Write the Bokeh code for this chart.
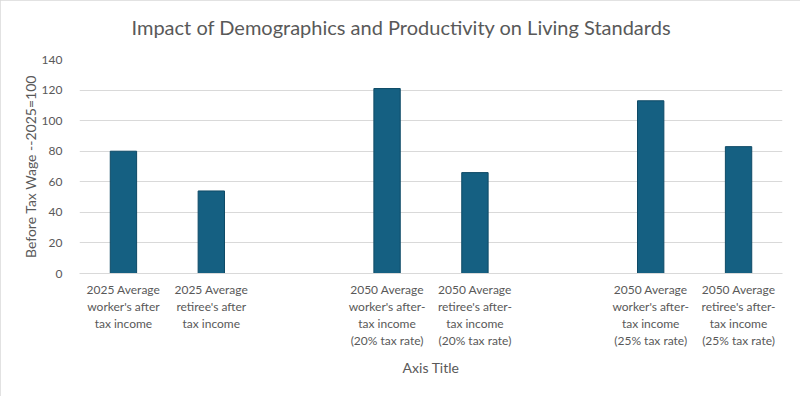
from bokeh.plotting import figure
from bokeh.models import FactorRange, ColumnDataSource, Range1d, SingleIntervalTicker
from bokeh.embed import file_html
from bokeh.resources import INLINE

title_text = "Impact of Demographics and Productivity on Living Standards"
y_title = "Before Tax Wage --2025=100"
x_title = "Axis Title"

# category slots on the axis (two empty spacer slots)
slots = [
    "2025 Average\nworker's after\ntax income",
    "2025 Average\nretiree's after\ntax income",
    " ",
    "2050 Average\nworker's after-\ntax income\n(20% tax rate)",
    "2050 Average\nretiree's after-\ntax income\n(20% tax rate)",
    "  ",
    "2050 Average\nworker's after-\ntax income\n(25% tax rate)",
    "2050 Average\nretiree's after-\ntax income\n(25% tax rate)",
]
categories = [slots[0], slots[1], slots[3], slots[4], slots[6], slots[7]]
values = [80, 54, 121, 66, 113, 83]

FONT = "Lato"
GREY = "#595959"

src = ColumnDataSource(data=dict(cat=categories, val=values))

p = figure(
    width=800, height=396,
    x_range=FactorRange(factors=slots),
    y_range=Range1d(0, 140),
    output_backend="svg", toolbar_location=None,
    min_border_left=79, min_border_right=18, min_border_top=59, min_border_bottom=123,
)
p.styles = {"outline": "2px solid #d9d9d9", "outline-offset": "-2px"}

p.vbar(x="cat", top="val", width=0.3, source=src,
       fill_color="#156082", line_color="#0e4a66", line_width=1)

p.title.text = title_text + "\n"
p.title.text_font = FONT
p.title.text_font_size = "20px"
p.title.text_font_style = "normal"
p.title.text_color = GREY
p.title.text_line_height = 0.5
p.title.align = "left"
p.title.offset = 52
p.title.vertical_align = "top"
p.title.standoff = 14

p.outline_line_color = None
p.background_fill_color = "white"
p.border_fill_color = "white"

p.xgrid.grid_line_color = None
p.ygrid.grid_line_color = "#d9d9d9"
p.ygrid.grid_line_width = 1
p.yaxis.ticker = SingleIntervalTicker(interval=20)

for ax in (p.xaxis[0], p.yaxis[0]):
    ax.major_tick_line_color = None
    ax.minor_tick_line_color = None
    ax.major_label_text_font = FONT
    ax.major_label_text_font_size = "12px"
    ax.major_label_text_color = GREY
    ax.axis_label_text_font = FONT
    ax.axis_label_text_font_size = "14px"
    ax.axis_label_text_font_style = "normal"
    ax.axis_label_text_color = GREY

p.yaxis.axis_line_color = None
p.yaxis.major_label_standoff = 11
p.yaxis.axis_label = y_title
p.yaxis.axis_label_standoff = 0

p.xaxis.axis_line_color = "#d9d9d9"
p.xaxis.major_label_standoff = 2
p.xaxis.major_label_text_line_height = 1.15
p.xaxis.axis_label = x_title
p.xaxis.axis_label_standoff = 8

open("out.html", "w").write(file_html(p, INLINE))
